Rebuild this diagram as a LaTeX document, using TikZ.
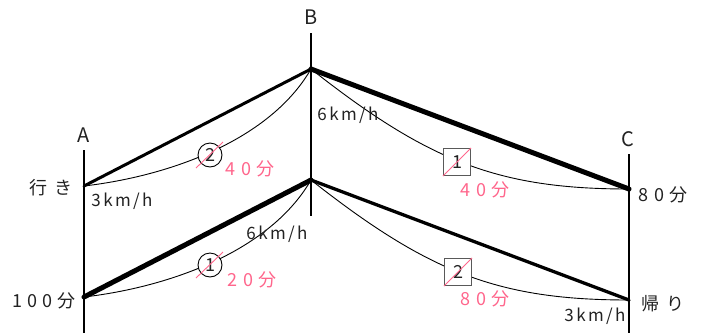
\documentclass[tikz,border=0pt]{standalone}
\usepackage{fontspec}
\setmainfont{Noto Sans CJK JP}
\newfontfamily\lblfont{Noto Sans CJK JP}
\newfontfamily\minfont[LetterSpace=28]{Noto Sans CJK JP}
\newfontfamily\spdfont[LetterSpace=14]{Noto Sans CJK JP}
\newfontfamily\wayfont[LetterSpace=38]{Noto Sans CJK JP}
\definecolor{pk}{RGB}{255,102,140}
\definecolor{ink}{RGB}{34,34,34}
\begin{document}
\begin{tikzpicture}[x=1pt,y=-1pt,
  axisline/.style={line width=2.8pt, draw=black},
  route/.style={line width=3pt, line cap=round},
  fast/.style={line width=5pt, line cap=round},
  arcline/.style={line width=0.9pt},
  circnum/.style={circle, draw, fill=white, minimum size=24pt, inner sep=0pt, line width=0.9pt, text=ink, font=\fontsize{18}{18}\lblfont},
  sqnum/.style={rectangle, draw=black!65, fill=white, minimum size=27pt, inner sep=0pt, line width=1.1pt, text=ink, font=\fontsize{18}{18}\lblfont},
  slash/.style={draw=pk, line width=0.9pt},
  ptlab/.style={text=ink, inner sep=0pt, font=\fontsize{20}{20}\lblfont},
  spdlab/.style={text=ink, inner sep=0pt, font=\fontsize{17}{17}\spdfont},
  minlab/.style={text=ink, inner sep=0pt, font=\fontsize{18}{18}\minfont},
  pinklab/.style={text=pk, inner sep=0pt, font=\fontsize{18}{18}\minfont},
  waylab/.style={text=ink, inner sep=0pt, font=\fontsize{18}{18}\wayfont}
]
\useasboundingbox (0,0) rectangle (706,333);
% key points
\coordinate (Atop) at (84,150);
\coordinate (Abot) at (84,333);
\coordinate (Btop) at (311,33);
\coordinate (Bbot) at (311,216);
\coordinate (Ctop) at (629,154);
\coordinate (Cbot) at (629,333);
\coordinate (A1) at (84,186);
\coordinate (A2) at (84,297);
\coordinate (B1) at (311,69);
\coordinate (B2) at (311,180);
\coordinate (C1) at (629,189);
\coordinate (C2) at (629,300);
% axes
\draw[axisline] (Atop) -- (Abot);
\draw[axisline] (Btop) -- (Bbot);
\draw[axisline] (Ctop) -- (Cbot);
% routes
\draw[route] (A1) -- (B1);
\draw[fast] (B1) -- (C1);
\draw[fast] (A2) -- (B2);
\draw[line width=3.3pt, line cap=round] (B2) -- (C2);
% time curves
\draw[arcline] (A1) .. controls (170,176) and (270,140) .. (B1);
\draw[arcline] (A2) .. controls (170,287) and (270,251) .. (B2);
\draw[arcline] (B1) .. controls (429,162) and (499,189) .. (C1);
\draw[arcline] (B2) .. controls (429,273) and (499,300) .. (C2);
% numbered marks
\node[circnum] (c2) at (210,155) {2};
\node[circnum] (c1) at (210,265) {1};
\node[sqnum] (s1) at (457,162) {1};
\node[sqnum] (s2) at (458,272) {2};
\draw[slash] ([shift={(-14,13)}]c2.center) -- ([shift={(13,-13)}]c2.center);
\draw[slash] ([shift={(-14,13)}]c1.center) -- ([shift={(13,-13)}]c1.center);
\draw[slash] (s1.south west) -- (s1.north east);
\draw[slash] (s2.south west) -- (s2.north east);
% labels
\node[ptlab] (lA) at (84,135) {A};
\node[ptlab] (lB) at (311,17) {B};
\node[ptlab] (lC) at (628,139) {C};
\node[waylab] (lgo) at (51,188) {行き};
\node[waylab] (lback) at (663,304) {帰り};
\node[spdlab] (v1) at (122,201) {3km/h};
\node[spdlab] (v2) at (348,115) {6km/h};
\node[spdlab] (v3) at (277,234) {6km/h};
\node[spdlab] (v4) at (595,316) {3km/h};
\node[pinklab] (t1) at (250,169) {40分};
\node[pinklab] (t2) at (485,190) {40分};
\node[pinklab] (t3) at (252,280) {20分};
\node[pinklab] (t4) at (485,299) {80分};
\node[minlab] (t5) at (663,195) {80分};
\node[minlab] (t6) at (44,301) {100分};
\end{tikzpicture}
\end{document}
